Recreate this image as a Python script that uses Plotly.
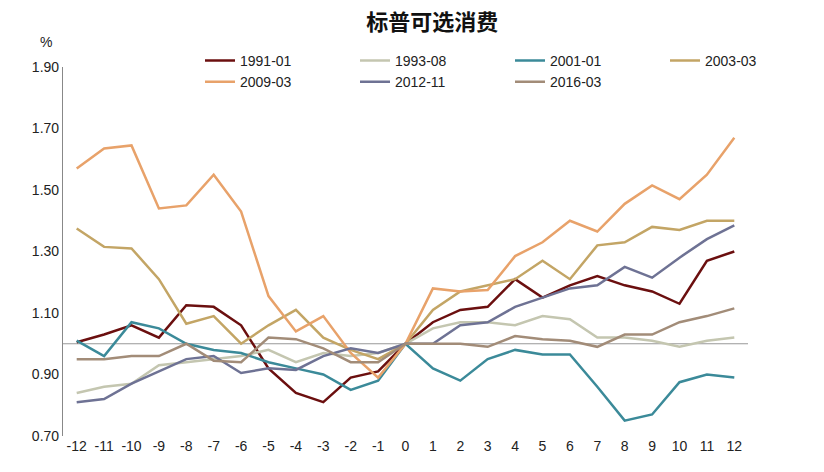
import plotly.graph_objects as go

months = list(range(-12, 13))
month_labels = [str(m) for m in months]

s_1991_01 = [1.005, 1.03, 1.06, 1.02, 1.125, 1.12, 1.06, 0.92, 0.84, 0.81, 0.89, 0.91, 1.0,
             1.07, 1.11, 1.12, 1.21, 1.15, 1.19, 1.22, 1.19, 1.17, 1.13, 1.27, 1.30]
s_1993_08 = [0.84, 0.86, 0.87, 0.93, 0.94, 0.95, 0.96, 0.98, 0.94, 0.97, 0.96, 0.97, 1.0,
             1.05, 1.07, 1.07, 1.06, 1.09, 1.08, 1.02, 1.02, 1.01, 0.99, 1.01, 1.02]
s_2001_01 = [1.01, 0.96, 1.07, 1.05, 1.0, 0.98, 0.97, 0.94, 0.92, 0.90, 0.85, 0.88, 1.0,
             0.92, 0.88, 0.95, 0.98, 0.965, 0.965, 0.86, 0.75, 0.77, 0.875, 0.90, 0.89]
s_2003_03 = [1.375, 1.315, 1.31, 1.21, 1.065, 1.09, 1.0, 1.06, 1.11, 1.02, 0.98, 0.95, 1.0,
             1.11, 1.17, 1.19, 1.21, 1.27, 1.21, 1.32, 1.33, 1.38, 1.37, 1.40, 1.40]
s_2009_03 = [1.57, 1.635, 1.645, 1.44, 1.45, 1.55, 1.43, 1.155, 1.04, 1.09, 0.97, 0.89, 1.0,
             1.18, 1.17, 1.175, 1.285, 1.33, 1.40, 1.365, 1.455, 1.515, 1.47, 1.55, 1.67]
s_2012_11 = [0.81, 0.82, 0.87, 0.91, 0.95, 0.96, 0.905, 0.92, 0.915, 0.96, 0.985, 0.97, 1.0,
             1.0, 1.06, 1.07, 1.12, 1.15, 1.18, 1.19, 1.25, 1.215, 1.28, 1.34, 1.385]
s_2016_03 = [0.95, 0.95, 0.96, 0.96, 1.0, 0.945, 0.94, 1.02, 1.015, 0.985, 0.94, 0.94, 1.0,
             1.0, 1.0, 0.99, 1.025, 1.015, 1.01, 0.99, 1.03, 1.03, 1.07, 1.09, 1.115]

series = [
    ("1991-01", s_1991_01, "#6b0f0f"),
    ("1993-08", s_1993_08, "#c4c6b0"),
    ("2001-01", s_2001_01, "#3b8a99"),
    ("2003-03", s_2003_03, "#c3a565"),
    ("2009-03", s_2009_03, "#e8a26a"),
    ("2012-11", s_2012_11, "#6e7294"),
    ("2016-03", s_2016_03, "#a28c78"),
]

fig = go.Figure()
for name, vals, col in series:
    fig.add_trace(go.Scatter(x=months, y=vals, name=name, mode="lines",
                             line=dict(color=col, width=2.5)))

# baseline at 1.00 where the x axis crosses
fig.add_shape(type="line", xref="x", yref="y", x0=-12.5, x1=12.5, y0=1.0, y1=1.0,
              line=dict(color="#999999", width=1.2), layer="below")

fig.update_layout(
    width=824, height=472,
    margin=dict(l=55, r=20, t=59, b=44),
    paper_bgcolor="white", plot_bgcolor="white",
    font=dict(family="Liberation Sans, Arial", size=14, color="#222"),
    title=dict(text="<b>标普可选消费</b>", x=0.515, xanchor="center",
               y=0.97, yanchor="middle",
               font=dict(family="Noto Sans CJK SC", size=22, color="#111")),
    legend=dict(orientation="h", x=0.2, y=1.06, xanchor="left", yanchor="top",
                entrywidth=110, font=dict(size=14), bgcolor="rgba(0,0,0,0)",
                tracegroupgap=0),
    showlegend=True,
)
fig.update_xaxes(range=[-12.5, 12.5], tickmode="array", tickvals=months,
                 ticktext=month_labels,
                 showgrid=False, zeroline=False, showline=False, ticks="",
                 tickfont=dict(size=14))
fig.update_yaxes(range=[0.70, 1.90], tickmode="array",
                 tickvals=[0.70, 0.90, 1.10, 1.30, 1.50, 1.70, 1.90],
                 tickformat=".2f", showgrid=False, zeroline=False,
                 showline=True, linecolor="#888", linewidth=1.2,
                 ticks="", tickfont=dict(size=14))
fig.add_annotation(text="%", xref="paper", yref="paper", x=-0.037, y=1.095,
                   showarrow=False, font=dict(size=14))

fig.write_html("out.html")
